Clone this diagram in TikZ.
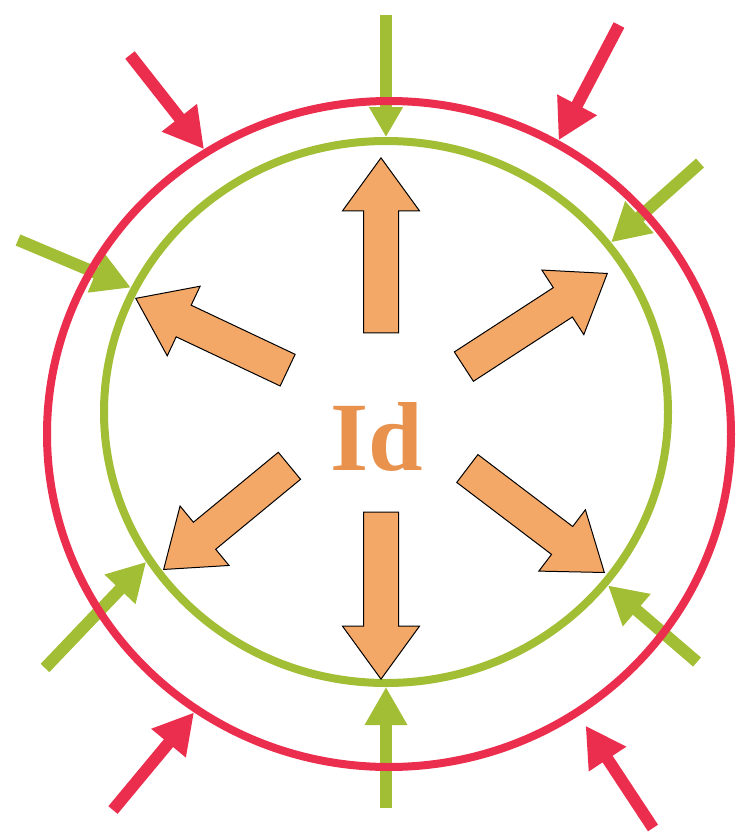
\documentclass[tikz,border=0pt]{standalone}
\usepackage{fontspec}
\setmainfont{Liberation Serif}
\usepackage{tikz}
\usetikzlibrary{arrows.meta,shapes.geometric,shapes.arrows,positioning}
\usepackage{xcolor}

\definecolor{ringred}{RGB}{236,46,78}
\definecolor{ringgreen}{RGB}{162,190,52}
\definecolor{arrowfill}{RGB}{244,168,104}
\definecolor{idorange}{RGB}{232,146,78}

\tikzset{
  ring/.style={ellipse, draw, line width=8pt, inner sep=0pt},
  pushred/.style={draw=ringred, line width=12pt, -{Triangle[length=40pt,width=42pt]}},
  pushgreen/.style={draw=ringgreen, line width=12pt, -{Triangle[length=38pt,width=40pt]}},
  outflow/.style={single arrow, draw=black, fill=arrowfill, line width=1pt, anchor=tip,
    inner xsep=0pt, inner ysep=17pt, single arrow head extend=21pt, single arrow tip angle=72}
}

\begin{document}
\begin{tikzpicture}[x=1pt,y=-1pt]
  \useasboundingbox (0,0) rectangle (737,833);
  \fill[white] (0,0) rectangle (737,833);

  % inner ring and the green pushes onto it
  \node[ring, draw=ringgreen, minimum width=564pt, minimum height=542pt] (inner) at (386,412) {};
  \coordinate (g1) at (386,15);
  \coordinate (g2) at (18,240);
  \coordinate (g3) at (700,163);
  \coordinate (g4) at (45,668);
  \coordinate (g5) at (697,662);
  \coordinate (g6) at (386,808);
  \draw[pushgreen, -{Triangle[length=30pt,width=32pt]}] (g1) -- (inner.north);
  \draw[pushgreen] (g2) -- (inner.154.9);
  \draw[pushgreen] (g3) -- (inner.37.5);
  \draw[pushgreen] (g4) -- (inner.212.4);
  \draw[pushgreen] (g5) -- (inner.322.3);
  \draw[pushgreen] (g6) -- (inner.south);

  % outer ring and the red pushes onto it
  \node[ring, draw=ringred, minimum width=684pt, minimum height=666pt] (outer) at (389,434) {};
  \coordinate (r1) at (130,55);
  \coordinate (r2) at (619,25);
  \coordinate (r3) at (113,810);
  \coordinate (r4) at (653,828);
  \draw[pushred] (r1) -- (outer.123.5);
  \draw[pushred] (r2) -- (outer.60.8);
  \draw[pushred] (r3) -- (outer.235.6);
  \draw[pushred, shorten >=12pt] (r4) -- (outer.304.4);

  % outward arrows, placed by their tips
  \node[outflow, minimum height=175pt, rotate=90] (up) at (381,157) {};
  \node[outflow, minimum height=168pt, rotate=154.7] (upleft) at (135,298) {};
  \node[outflow, minimum height=171pt, rotate=33] (upright) at (608,273) {};
  \node[outflow, minimum height=163pt, rotate=219.5] (downleft) at (163,570) {};
  \node[outflow, minimum height=172pt, rotate=-37.2] (downright) at (605,573) {};
  \node[outflow, minimum height=167pt, rotate=-90] (down) at (381,680) {};

  \node[text=idorange, font=\fontsize{98}{98}\selectfont\bfseries, anchor=base, inner sep=0pt] (id) at (377,470) {Id};
\end{tikzpicture}
\end{document}
